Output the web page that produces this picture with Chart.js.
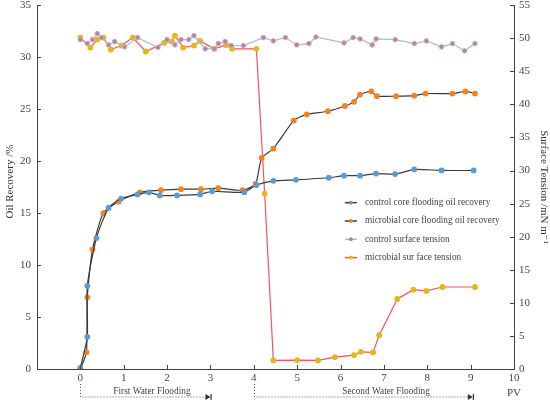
<!DOCTYPE html>
<html>
<head>
<meta charset="utf-8">
<script src="https://cdn.jsdelivr.net/npm/chart.js@4.4.0/dist/chart.umd.min.js"></script>
<style>
  html, body { margin: 0; padding: 0; background: #fff; }
  #wrap { width: 550px; height: 402px; }
</style>
</head>
<body>
<div id="wrap"><canvas id="myChart"></canvas></div>
<script>
// oil recovery (%), left axis
const ctrlRecPV = [0, 0.16, 0.16, 0.37, 0.65, 0.94, 1.32, 1.58, 1.83, 2.23, 2.76, 3.04, 3.78, 4.06, 4.45, 4.97, 5.73, 6.08, 6.45, 6.82, 7.26, 7.70, 8.33, 9.07];
const ctrlRec = [0.1, 3.1, 8.0, 12.6, 15.5, 16.4, 16.8, 17.0, 16.7, 16.7, 16.8, 17.1, 17.0, 17.7, 18.1, 18.2, 18.4, 18.6, 18.6, 18.8, 18.75, 19.2, 19.1, 19.1];
const microRecPV = [0, 0.14, 0.16, 0.28, 0.53, 0.88, 1.37, 1.86, 2.32, 2.78, 3.18, 3.74, 4.04, 4.18, 4.45, 4.92, 5.22, 5.71, 6.10, 6.31, 6.45, 6.71, 6.84, 7.28, 7.70, 7.96, 8.58, 8.88, 9.10];
const microRec = [0, 1.6, 6.9, 11.5, 15.0, 16.1, 17.0, 17.2, 17.3, 17.3, 17.4, 17.2, 17.8, 20.3, 21.2, 23.9, 24.5, 24.8, 25.3, 25.7, 26.4, 26.7, 26.25, 26.25, 26.3, 26.5, 26.5, 26.7, 26.5];

// surface tension (mN/m), right axis
const ctrlTenPV = [0, 0.16, 0.28, 0.39, 0.49, 0.65, 0.79, 1.02, 1.32, 1.79, 2.0, 2.18, 2.32, 2.5, 2.62, 2.88, 3.09, 3.18, 3.34, 3.48, 3.76, 4.22, 4.45, 4.73, 4.99, 5.27, 5.43, 6.08, 6.29, 6.45, 6.73, 6.82, 7.26, 7.70, 7.98, 8.33, 8.58, 8.86, 9.10];
const ctrlTen = [49.8, 49.2, 49.8, 50.7, 50.1, 49.0, 49.5, 48.7, 50.1, 48.6, 49.8, 49.0, 49.8, 49.8, 50.4, 48.4, 48.4, 49.2, 49.5, 48.9, 48.9, 50.1, 49.6, 50.1, 49.0, 49.2, 50.2, 49.3, 50.1, 49.9, 49.0, 49.9, 49.8, 49.2, 49.6, 48.7, 49.2, 48.1, 49.2];
const microTenPV = [0, 0.23, 0.39, 0.53, 0.70, 0.95, 1.21, 1.51, 1.93, 2.11, 2.18, 2.37, 2.62, 2.76, 3.09, 3.36, 3.50, 4.06, 4.25, 4.45, 5.0, 5.48, 5.87, 6.31, 6.47, 6.75, 6.89, 7.31, 7.68, 7.98, 8.35, 9.10];
const microTen = [50.1, 48.6, 49.8, 50.1, 48.3, 48.9, 50.1, 48.0, 49.3, 49.5, 50.4, 48.6, 48.9, 49.6, 48.4, 49.0, 48.4, 48.4, 26.5, 1.3, 1.35, 1.3, 1.8, 2.1, 2.6, 2.5, 5.1, 10.6, 12.0, 11.8, 12.4, 12.4];

const xTicks = [0, 1, 2, 3, 4, 5, 6, 7, 8, 9, 10];
const recTicks = [0, 5, 10, 15, 20, 25, 30, 35];
const tenTicks = [0, 5, 10, 15, 20, 25, 30, 35, 40, 45, 50, 55];

const stages = [
  { label: "First Water Flooding", from: 0, to: 3.0, text: 1.65 },
  { label: "Second Water Flooding", from: 4, to: 9.05, text: 7.05 }
];

const serif = "'Liberation Serif', 'DejaVu Serif', serif";

function pts(xs, ys) {
  return xs.map((x, i) => ({ x: x, y: ys[i] }));
}

function noPad(s) {
  s.paddingTop = 0; s.paddingBottom = 0;
  s.paddingLeft = 0; s.paddingRight = 0;
}

// inward ticks, legend and flooding stage brackets
const extras = {
  id: "extras",
  afterDraw(chart) {
    const c = chart.ctx;
    const xs = chart.scales.x, yl = chart.scales.yRec, yr = chart.scales.yTen;
    const area = chart.chartArea;
    c.save();
    c.strokeStyle = "#444";
    c.lineWidth = 1;
    c.beginPath();
    xTicks.forEach(v => {
      const p = Math.round(xs.getPixelForValue(v)) + 0.5;
      c.moveTo(p, area.bottom); c.lineTo(p, area.bottom - 4);
    });
    recTicks.forEach(v => {
      const p = Math.round(yl.getPixelForValue(v)) + 0.5;
      c.moveTo(area.left, p); c.lineTo(area.left + 4, p);
    });
    tenTicks.forEach(v => {
      const p = Math.round(yr.getPixelForValue(v)) + 0.5;
      c.moveTo(area.right, p); c.lineTo(area.right - 4, p);
    });
    c.stroke();

    // legend
    const lx = xs.getPixelForValue(6.1);
    let ly = yl.getPixelForValue(16.0);
    c.font = "9.3px " + serif;
    c.textBaseline = "middle";
    c.textAlign = "left";
    chart.data.datasets.forEach(ds => {
      c.strokeStyle = ds.borderColor;
      c.lineWidth = 1.5;
      c.beginPath();
      c.moveTo(lx, ly); c.lineTo(lx + 12, ly);
      c.stroke();
      c.fillStyle = ds.pointBackgroundColor;
      c.beginPath();
      c.arc(lx + 6, ly, 2, 0, Math.PI * 2);
      c.fill();
      c.fillStyle = "#444";
      c.fillText(ds.label, lx + 20, ly);
      ly += 18.3;
    });

    // stage brackets below the x axis
    c.strokeStyle = "#555";
    c.fillStyle = "#333";
    c.lineWidth = 1;
    c.setLineDash([1, 2]);
    const top = area.bottom + 15, base = area.bottom + 28;
    stages.forEach(s => {
      const a = Math.round(xs.getPixelForValue(s.from)) + 0.5;
      const b = xs.getPixelForValue(s.to);
      c.beginPath();
      c.moveTo(a, top); c.lineTo(a, base); c.lineTo(b - 4, base);
      c.stroke();
    });
    c.setLineDash([]);
    stages.forEach(s => {
      const b = xs.getPixelForValue(s.to);
      c.beginPath();
      c.moveTo(b - 5, base - 3); c.lineTo(b, base); c.lineTo(b - 5, base + 3);
      c.closePath(); c.fill();
      c.fillRect(b, base - 3, 1.2, 6);
      c.font = "9.3px " + serif;
      c.textAlign = "center";
      c.fillStyle = "#444";
      c.fillText(s.label, xs.getPixelForValue(s.text), base - 5);
      c.fillStyle = "#333";
    });
    c.font = "11px " + serif;
    c.textAlign = "center";
    c.fillStyle = "#444";
    c.fillText("PV", xs.getPixelForValue(10), base - 4);
    c.restore();
  }
};

const ctx = document.getElementById("myChart");
const myChart = new Chart(ctx, {
  type: "line",
  data: {
    datasets: [
      {
        label: "control core flooding oil recovery",
        data: pts(ctrlRecPV, ctrlRec),
        yAxisID: "yRec",
        borderColor: "#3a3a3a",
        borderWidth: 1.2,
        pointBackgroundColor: "#5b9bd5",
        pointBorderColor: "#5b9bd5",
        pointRadius: 2.3,
        tension: 0.2
      },
      {
        label: "microbial core flooding oil recovery",
        data: pts(microRecPV, microRec),
        yAxisID: "yRec",
        borderColor: "#3a3a3a",
        borderWidth: 1.2,
        pointBackgroundColor: "#f5821f",
        pointBorderColor: "#f5821f",
        pointRadius: 2.3,
        tension: 0.2
      },
      {
        label: "control surface tension",
        data: pts(ctrlTenPV, ctrlTen),
        yAxisID: "yTen",
        borderColor: "#a9bccf",
        borderWidth: 1.2,
        pointBackgroundColor: "#9a8ea8",
        pointBorderColor: "#e8a2ac",
        pointBorderWidth: 1,
        pointRadius: 2.3,
        tension: 0
      },
      {
        label: "microbial sur face tension",
        data: pts(microTenPV, microTen),
        yAxisID: "yTen",
        borderColor: "#f2545e",
        borderWidth: 1.2,
        pointBackgroundColor: "#e6b617",
        pointBorderColor: "#e6b617",
        pointRadius: 2.3,
        tension: 0
      }
    ]
  },
  options: {
    responsive: true,
    maintainAspectRatio: false,
    animation: false,
    layout: { padding: { top: 4, left: 0, right: 0, bottom: 0 } },
    plugins: {
      legend: { display: false },
      tooltip: { enabled: false }
    },
    scales: {
      x: {
        type: "linear",
        min: -1,
        max: 10,
        grid: { display: false, drawTicks: false, tickLength: 0 },
        border: { color: "#444" },
        afterFit: s => { s.height = 33; noPad(s); },
        afterBuildTicks: s => { s.ticks = xTicks.map(v => ({ value: v })); },
        ticks: {
          padding: 3,
          color: "#444",
          font: { family: serif, size: 11 },
          maxRotation: 0
        }
      },
      yRec: {
        position: "left",
        min: 0,
        max: 35,
        grid: { display: false, drawTicks: false, tickLength: 0 },
        border: { color: "#444" },
        afterFit: s => { s.width = 37; noPad(s); },
        afterBuildTicks: s => { s.ticks = recTicks.map(v => ({ value: v })); },
        ticks: { padding: 6, color: "#444", font: { family: serif, size: 11 } },
        title: {
          display: true,
          text: "    Oil Recovery /%",
          color: "#333",
          padding: { top: 4, bottom: 0 },
          font: { family: serif, size: 11 }
        }
      },
      yTen: {
        position: "right",
        min: 0,
        max: 55,
        grid: { display: false, drawTicks: false, tickLength: 0 },
        border: { color: "#444" },
        afterFit: s => { s.width = 36; noPad(s); },
        afterBuildTicks: s => { s.ticks = tenTicks.map(v => ({ value: v })); },
        ticks: { padding: 5, color: "#444", font: { family: serif, size: 11 } },
        title: {
          display: true,
          text: "Surface Tension /mN m\u207B\u00B9",
          color: "#333",
          padding: 0,
          font: { family: serif, size: 11 }
        }
      }
    }
  },
  plugins: [extras]
});
myChart;
</script>
</body>
</html>
